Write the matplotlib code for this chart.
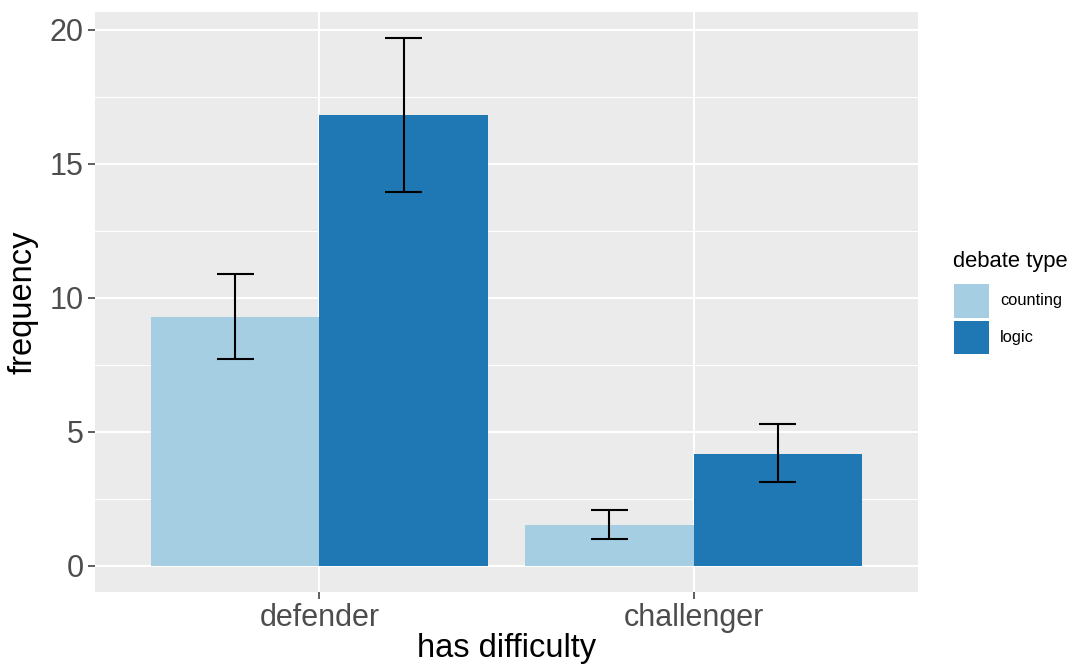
import matplotlib
matplotlib.use("Agg")
import matplotlib.pyplot as plt
from matplotlib.patches import Rectangle
import numpy as np

plt.rcParams["font.family"] = ["Liberation Sans", "DejaVu Sans"]

# Data
roles = ["defender", "challenger"]
debate_types = ["counting", "logic"]
freq_counting = [9.29, 1.53]
freq_logic = [16.81, 4.18]
lo_counting = [7.71, 0.99]
hi_counting = [10.89, 2.09]
lo_logic = [13.96, 3.11]
hi_logic = [19.69, 5.29]
colors = ["#A6CEE3", "#1F78B4"]

W, H = 1078, 666
fig = plt.figure(figsize=(W / 100, H / 100), dpi=100)
ax = fig.add_axes([95 / W, 1 - 592 / H, 823 / W, 580 / H])

ax.set_facecolor("#EBEBEB")
for s in ax.spines.values():
    s.set_visible(False)

x = np.arange(1, len(roles) + 1)
bw = 0.45
series = [
    (freq_counting, lo_counting, hi_counting, colors[0], -bw / 2),
    (freq_logic, lo_logic, hi_logic, colors[1], bw / 2),
]
for vals, lo, hi, col, off in series:
    ax.bar(x + off, vals, width=bw, color=col, edgecolor="none", zorder=3)
for vals, lo, hi, col, off in series:
    xs = x + off
    ax.vlines(xs, lo, hi, color="black", lw=1.5, zorder=4)
    ax.hlines(lo, xs - 0.05, xs + 0.05, color="black", lw=1.5, zorder=4)
    ax.hlines(hi, xs - 0.05, xs + 0.05, color="black", lw=1.5, zorder=4)

ax.set_xlim(0.4, 2.6)
ax.set_ylim(-0.984, 20.67)
ax.set_xticks(x)
ax.set_xticklabels(roles)
ax.set_yticks([0, 5, 10, 15, 20])
ax.set_yticks([2.5, 7.5, 12.5, 17.5], minor=True)
ax.grid(which="major", color="white", lw=1.5, zorder=1)
ax.grid(which="minor", axis="y", color="white", lw=0.75, zorder=1)
ax.set_axisbelow(True)
ax.tick_params(axis="both", which="major", length=5, width=1.1, color="#333333",
               labelcolor="#4D4D4D", labelsize=22, pad=3)
ax.tick_params(which="minor", length=0)

ax.set_xlabel("has difficulty", fontsize=23.5, color="black", labelpad=0)
ax.set_ylabel("frequency", fontsize=23.5, color="black", labelpad=8)

# Legend drawn in figure pixel coordinates
def fx(px):
    return px / W

def fy(py):
    return 1 - py / H

fig.text(fx(953), fy(261), "debate type", fontsize=15.8, va="center", ha="left")
keys = [(284, 318), (321, 354)]
for (top, bot), lab, col in zip(keys, debate_types, colors):
    fig.add_artist(Rectangle((fx(954), fy(bot)), fx(989) - fx(954), fy(top) - fy(bot),
                             transform=fig.transFigure, facecolor=col, edgecolor="none"))
    fig.text(fx(1000), fy((top + bot) / 2), lab, fontsize=11.8, va="center", ha="left")

fig.savefig("out.png", dpi=100)
